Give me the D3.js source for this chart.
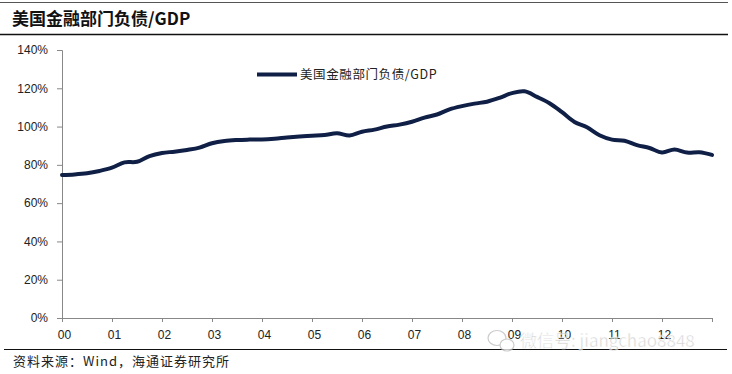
<!DOCTYPE html>
<html>
<head>
<meta charset="utf-8">
<script src="https://cdn.jsdelivr.net/npm/d3@7"></script>
<style>
  body { margin: 0; background: #fff; }
  svg { display: block; font-family: "Liberation Sans", Arial, sans-serif; }
</style>
</head>
<body>
<div id="chart"></div>
<script>
// quarterly, 2000Q1 .. 2013Q1
var years = ["00", "01", "02", "03", "04", "05", "06", "07", "08", "09", "10", "11", "12"];
var ratio = [74.7, 75.0, 75.6, 76.8, 78.5, 81.3, 81.6, 84.6, 86.2, 86.9, 87.8, 89.0,
             91.3, 92.5, 93.0, 93.2, 93.3, 93.7, 94.3, 94.8, 95.2, 95.6, 96.5, 95.3,
             97.3, 98.4, 100.0, 101.0, 102.5, 104.7, 106.3, 109.0, 110.7, 112.0, 113.0, 115.0,
             117.5, 118.4, 115.5, 112.2, 107.5, 102.4, 99.6, 95.5, 93.2, 92.6, 90.3, 88.8,
             86.5, 88.0, 86.4, 86.6, 85.2];
var yTicks = [0, 20, 40, 60, 80, 100, 120, 140];
var seriesName = "美国金融部门负债/GDP";

var W = 732, H = 374;
var svg = d3.select("#chart").append("svg")
    .attr("width", W)
    .attr("height", H);

// title + rules
svg.append("line").attr("x1", 0).attr("x2", 728).attr("y1", 2.5).attr("y2", 2.5)
    .attr("stroke", "#555").attr("stroke-width", 1);
svg.append("text")
    .attr("x", 12).attr("y", 25)
    .attr("font-family", "'Noto Sans CJK SC', sans-serif")
    .attr("font-weight", "bold")
    .attr("font-size", 17)
    .attr("fill", "#111")
    .text(seriesName);
svg.append("line").attr("x1", 0).attr("x2", 728).attr("y1", 34.5).attr("y2", 34.5)
    .attr("stroke", "#111").attr("stroke-width", 1.5);

var x = d3.scaleLinear().domain([0, 52]).range([62, 712]);
var y = d3.scaleLinear().domain([0, 140]).range([318, 50]);

var axisColor = "#888";

// y axis
var yAxis = svg.append("g")
    .attr("transform", "translate(62,0)")
    .call(d3.axisLeft(y).tickValues(yTicks).tickSize(5).tickPadding(9)
        .tickFormat(function(d) { return d + "%"; }));
yAxis.select(".domain").attr("stroke", axisColor);
yAxis.selectAll(".tick line").attr("stroke", axisColor);
yAxis.selectAll("text").attr("font-size", 12).attr("fill", "#222")
    .attr("font-family", "'Liberation Sans', Arial, sans-serif");

// x axis (ticks at year starts, one extra at end)
var xTickVals = d3.range(0, 53, 4);
var xAxis = svg.append("g")
    .attr("transform", "translate(0,318)")
    .call(d3.axisBottom(x).tickValues(xTickVals).tickSize(4).tickSizeOuter(0).tickPadding(8)
        .tickFormat(function(d) { return years[d / 4] || ""; }));
xAxis.select(".domain").attr("stroke", axisColor);
xAxis.selectAll(".tick line").attr("stroke", axisColor);
xAxis.selectAll("text").attr("font-size", 12).attr("fill", "#222")
    .attr("font-family", "'Liberation Sans', Arial, sans-serif")
    .attr("dx", 2);

// series line
var line = d3.line()
    .x(function(d, i) { return x(i); })
    .y(function(d) { return y(d); })
    .curve(d3.curveCatmullRom.alpha(0.5));

svg.append("path")
    .datum(ratio)
    .attr("d", line)
    .attr("fill", "none")
    .attr("stroke", "#0f1f46")
    .attr("stroke-width", 4)
    .attr("stroke-linejoin", "round")
    .attr("stroke-linecap", "round");

// legend
svg.append("line")
    .attr("x1", 257).attr("x2", 297).attr("y1", 74.5).attr("y2", 74.5)
    .attr("stroke", "#0f1f46").attr("stroke-width", 4);
svg.append("text")
    .attr("x", 300).attr("y", 79)
    .attr("font-family", "'Noto Sans CJK SC', sans-serif")
    .attr("font-size", 12.5)
    .attr("letter-spacing", 0.6)
    .attr("fill", "#222")
    .text(seriesName);

// bottom rule + source
svg.append("line").attr("x1", 4).attr("x2", 727).attr("y1", 349.5).attr("y2", 349.5)
    .attr("stroke", "#111").attr("stroke-width", 1.2);
svg.append("text")
    .attr("x", 13).attr("y", 366)
    .attr("font-family", "'Noto Sans CJK SC', sans-serif")
    .attr("font-size", 13)
    .attr("letter-spacing", 1)
    .attr("fill", "#222")
    .text("资料来源：Wind，海通证券研究所");

// watermark
var wm = svg.append("g").attr("opacity", 0.75);
wm.append("ellipse").attr("cx", 497).attr("cy", 338).attr("rx", 9).attr("ry", 7.5)
    .attr("fill", "#fff").attr("stroke", "#bbb").attr("stroke-width", 1.2);
wm.append("ellipse").attr("cx", 507).attr("cy", 345).attr("rx", 7).attr("ry", 6)
    .attr("fill", "#fff").attr("stroke", "#bbb").attr("stroke-width", 1.2);
wm.append("text")
    .attr("x", 520).attr("y", 347)
    .attr("font-family", "'Noto Sans CJK SC', sans-serif")
    .attr("font-size", 17)
    .attr("fill", "#c4c4c4")
    .attr("stroke", "#fff").attr("stroke-width", 0.5)
    .text("微信号: jiangchao8848");
</script>
</body>
</html>
